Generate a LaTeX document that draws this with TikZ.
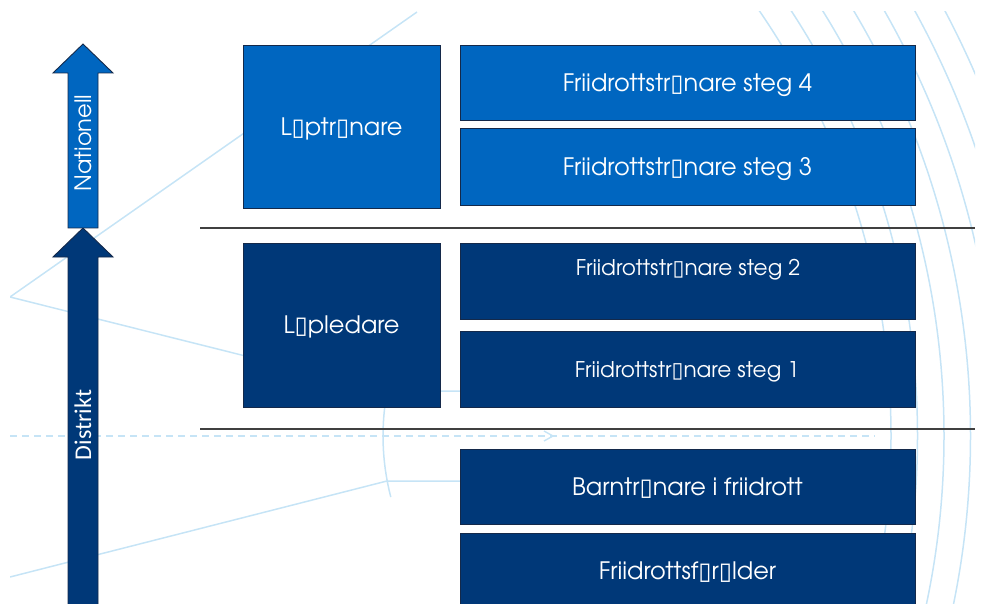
\documentclass[tikz,border=0pt]{standalone}
\usepackage{fontspec}
\newfontfamily\gothic{TeX Gyre Adventor}
\newfontfamily\calib{Carlito}
\newfontfamily\dvs{DejaVu Sans}
\newcommand\gbx{{\dvs ▯}}
\definecolor{lblue}{HTML}{0066C0}
\definecolor{dblue}{HTML}{003878}
\definecolor{edgec}{HTML}{14294A}
\definecolor{bgl}{HTML}{C6E4F6}
\definecolor{sepc}{HTML}{404040}
\tikzset{
  bgline/.style={draw=bgl, line width=1.5pt},
  boxbase/.style={draw=edgec, line width=0.9pt, text=white, inner sep=0pt, text height=17.5pt, text depth=0pt, font=\gothic\fontsize{24}{28}\selectfont},
  lbox/.style={boxbase, fill=lblue},
  dbox/.style={boxbase, fill=dblue},
  wide/.style={minimum width=455, minimum height=76},
  tall/.style={minimum width=197, minimum height=164},
  smalltxt/.style={text=white, inner sep=0pt, text height=15.8pt, text depth=0pt, font=\gothic\fontsize{21.6}{25}\selectfont},
  sepline/.style={draw=sepc, line width=2.6pt},
  arrowshape/.style={draw=edgec, line width=0.9pt}
}
\begin{document}
\begin{tikzpicture}[x=1pt,y=-1pt]
\useasboundingbox (0,0) rectangle (985,604);
% background drawing
\begin{scope}
  \clip (10,12) rectangle (975,604);
  \foreach \r in {752,778.5,...,912} \draw[bgline] (139,436) circle[radius=\r];
  \coordinate (v1) at (10,297);
  \coordinate (v2) at (10,577);
  \coordinate (t1) at (417,12);
  \coordinate (p1) at (385,391);
  \coordinate (p2) at (387,481);
  \coordinate (q1) at (600,391);
  \coordinate (q2) at (600,481);
  \draw[bgline] (t1) -- (v1) -- (p1) -- (q1);
  \draw[bgline] (v2) -- (p2) -- (q2);
  \draw[bgline] (390.8,374.9) arc[start angle=194.5, end angle=165.5, radius=244];
  \coordinate (d1) at (10,436);
  \coordinate (d2) at (875,436);
  \draw[bgline, line width=2pt, dash pattern=on 7pt off 5pt] (d1) -- (d2);
  \draw[bgline, line width=1.4pt] (544,431) -- (553,436) -- (544,441);
\end{scope}
% arrows
\fill[dblue] (68,606) -- (68,257) -- (53,257) -- (83,228) -- (113,257) -- (98,257) -- (98,606) -- cycle;
\draw[arrowshape] (68,606) -- (68,257) -- (53,257) -- (83,228) -- (113,257) -- (98,257) -- (98,606);
\draw[arrowshape, fill=lblue] (68,228) -- (68,73) -- (53,73) -- (83,44) -- (113,73) -- (98,73) -- (98,228) -- cycle;
\node[rotate=90, text=white, inner sep=0pt, font=\gothic\fontsize{22.6}{26}\selectfont] (nat) at (83,143) {Nationell};
\node[rotate=90, text=white, inner sep=0pt, font=\calib\fontsize{24}{28}\selectfont] (dis) at (83,425) {Distrikt};
% separators
\coordinate (a1) at (200,228); \coordinate (a2) at (975,228);
\coordinate (b1) at (200,429); \coordinate (b2) at (975,429);
\draw[sepline] (a1) -- (a2);
\draw[sepline] (b1) -- (b2);
% boxes
\node[lbox, tall, minimum height=163] (lopt) at (341.5,126.5) {L\gbx ptr\gbx nare};
\node[lbox, wide, minimum height=75] (s4) at (687.5,82.5) {Friidrottstr\gbx nare steg 4};
\node[lbox, wide, minimum height=77] (s3) at (687.5,166.5) {Friidrottstr\gbx nare steg 3};
\node[dbox, tall] (lop) at (341.5,325) {L\gbx pledare};
\node[dbox, wide] (s2) at (687.5,281) {};
\node[smalltxt] (s2t) at (688,268) {Friidrottstr\gbx nare steg 2};
\node[dbox, wide] (s1) at (687.5,369) {};
\node[smalltxt] (s1t) at (687,370) {Friidrottstr\gbx nare steg 1};
\node[dbox, wide, minimum height=75] (barn) at (687.5,486.5) {Barntr\gbx nare i friidrott};
\node[dbox, wide, minimum height=76] (foral) at (687.5,571) {Friidrottsf\gbx r\gbx lder};
\end{tikzpicture}
\end{document}
